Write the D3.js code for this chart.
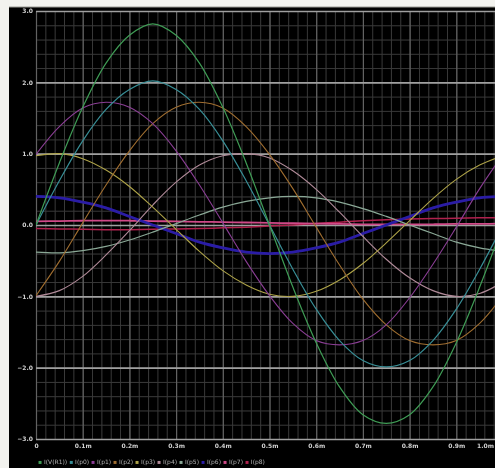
<!DOCTYPE html>
<html>
<head>
<meta charset="utf-8">
<script src="https://cdn.jsdelivr.net/npm/d3@7"></script>
<style>
  html, body { margin: 0; padding: 0; background: #f2f2ee; }
  svg { display: block; }
</style>
</head>
<body>
<svg id="chart" width="495" height="468"></svg>
<script>
// time samples in ms
const times = [0, 0.05, 0.1, 0.15, 0.2, 0.25, 0.3, 0.35, 0.4, 0.45, 0.5, 0.55, 0.6, 0.65, 0.7, 0.75, 0.8, 0.85, 0.9, 0.95, 1.0];

const greenVals = [0, 0.87, 1.65, 2.27, 2.66, 2.82, 2.66, 2.27, 1.65, 0.87, 0, -0.87, -1.65, -2.27, -2.66, -2.78, -2.66, -2.27, -1.65, -0.87, 0];
const cyanVals = [0, 0.62, 1.18, 1.62, 1.9, 2.02, 1.9, 1.62, 1.18, 0.62, 0, -0.62, -1.18, -1.62, -1.9, -1.99, -1.9, -1.62, -1.18, -0.62, 0];
const violetVals = [0.99, 1.38, 1.64, 1.72, 1.65, 1.42, 1.04, 0.56, 0.03, -0.51, -0.99, -1.38, -1.62, -1.68, -1.62, -1.4, -1.02, -0.55, -0.03, 0.51, 0.99];
const orangeVals = [-0.99, -0.51, 0.03, 0.56, 1.04, 1.42, 1.65, 1.72, 1.64, 1.38, 0.99, 0.51, -0.03, -0.56, -1.04, -1.4, -1.62, -1.68, -1.62, -1.38, -0.99];
const yellowVals = [0.97, 1.0, 0.93, 0.77, 0.54, 0.25, -0.06, -0.37, -0.64, -0.84, -0.97, -1.0, -0.93, -0.77, -0.54, -0.25, 0.06, 0.37, 0.64, 0.84, 0.97];
const mauveVals = [-1.0, -0.92, -0.72, -0.42, -0.08, 0.28, 0.6, 0.84, 0.97, 1.0, 0.94, 0.76, 0.5, 0.18, -0.16, -0.48, -0.74, -0.92, -1.0, -0.96, -0.8];
const paleVals = [-0.38, -0.39, -0.36, -0.3, -0.21, -0.1, 0.02, 0.14, 0.25, 0.33, 0.38, 0.4, 0.38, 0.32, 0.23, 0.12, 0.0, -0.12, -0.24, -0.32, -0.37];
const blueVals = [0.4, 0.38, 0.32, 0.24, 0.12, 0, -0.12, -0.24, -0.32, -0.38, -0.4, -0.38, -0.32, -0.24, -0.12, 0, 0.12, 0.24, 0.32, 0.38, 0.4];
const pinkVals = [0.05, 0.055, 0.06, 0.06, 0.06, 0.055, 0.05, 0.045, 0.04, 0.035, 0.03, 0.025, 0.02, 0.015, 0.01, 0.01, 0.01, 0.01, 0.015, 0.015, 0.02];
const redVals = [-0.05, -0.055, -0.06, -0.065, -0.065, -0.06, -0.055, -0.05, -0.04, -0.03, -0.015, 0, 0.02, 0.04, 0.06, 0.075, 0.085, 0.09, 0.095, 0.1, 0.1];

const xTicks = [0, 0.1, 0.2, 0.3, 0.4, 0.5, 0.6, 0.7, 0.8, 0.9, 1.0];
const xTickLabels = ["0", "0.1m", "0.2m", "0.3m", "0.4m", "0.5m", "0.6m", "0.7m", "0.8m", "0.9m", "1.0m"];
const yTicks = [3, 2, 1, 0, -1, -2, -3];
const legendNames = ["I(V(R1))", "I(p0)", "I(p1)", "I(p2)", "I(p3)", "I(p4)", "I(p5)", "I(p6)", "I(p7)", "I(p8)"];

const series = [
  { name: "I(p8)", values: redVals, color: "#b0204e", width: 1.5 },
  { name: "I(p7)", values: pinkVals, color: "#d04a88", width: 1.8 },
  { name: "I(p6)", values: blueVals, color: "#2c1ea6", width: 2.8 },
  { name: "I(p5)", values: paleVals, color: "#8aa896", width: 1.2 },
  { name: "I(p4)", values: mauveVals, color: "#b08a98", width: 1.1 },
  { name: "I(p3)", values: yellowVals, color: "#aea348", width: 1.1 },
  { name: "I(p2)", values: orangeVals, color: "#a06e30", width: 1.1 },
  { name: "I(p1)", values: violetVals, color: "#8a3e94", width: 1.1 },
  { name: "I(p0)", values: cyanVals, color: "#388e96", width: 1.2 },
  { name: "I(V(R1))", values: greenVals, color: "#3f9c55", width: 1.2 }
];

const svg = d3.select("#chart");
const W = 495, H = 468;

const defs = svg.append("defs");
defs.append("filter").attr("id", "soft")
  .append("feGaussianBlur").attr("stdDeviation", 0.6);
defs.append("clipPath").attr("id", "plotClip")
  .append("rect").attr("x", 36).attr("y", 8).attr("width", 470).attr("height", 434);

// frame: white strip top/left, black body
svg.append("rect").attr("x", 9).attr("y", 7).attr("width", W - 9).attr("height", H - 7).attr("fill", "#000");
svg.append("line").attr("x1", 9).attr("x2", W).attr("y1", 7).attr("y2", 7)
  .attr("stroke", "#9a9a94").attr("stroke-width", 1);

const x = d3.scaleLinear().domain([0, 1.0]).range([36, 503]);
const y = d3.scaleLinear().domain([-3, 3]).range([439, 11]);

const g = svg.append("g").attr("filter", "url(#soft)");

// minor grid
const minorX = d3.range(0, 1.0001, 0.02);
const minorY = d3.range(-3, 3.0001, 0.2);
g.append("g")
  .attr("transform", `translate(0,${y(-3)})`)
  .call(d3.axisBottom(x).tickValues(minorX).tickSize(-(y(-3) - y(3))).tickFormat(""))
  .call((s) => s.select(".domain").remove())
  .call((s) => s.selectAll("line").attr("stroke", "#3a3a3a").attr("stroke-width", 1));
g.append("g")
  .attr("transform", `translate(${x(0)},0)`)
  .call(d3.axisLeft(y).tickValues(minorY).tickSize(-(x(1) - x(0))).tickFormat(""))
  .call((s) => s.select(".domain").remove())
  .call((s) => s.selectAll("line").attr("stroke", "#3a3a3a").attr("stroke-width", 1));

// major grid
g.append("g")
  .attr("transform", `translate(0,${y(-3)})`)
  .call(d3.axisBottom(x).tickValues(xTicks).tickSize(-(y(-3) - y(3))).tickFormat(""))
  .call((s) => s.select(".domain").remove())
  .call((s) => s.selectAll("line").attr("stroke", "#626262").attr("stroke-width", 1.2));
g.append("g")
  .attr("transform", `translate(${x(0)},0)`)
  .call(d3.axisLeft(y).tickValues(yTicks).tickSize(-(x(1) - x(0))).tickFormat(""))
  .call((s) => s.select(".domain").remove())
  .call((s) => s.selectAll("line").attr("stroke", "#a0a0a0").attr("stroke-width", 1.6));

// curves
const line = d3.line()
  .x((d, i) => x(times[i]))
  .y((d) => y(d))
  .curve(d3.curveCatmullRom.alpha(0.5));

const plot = g.append("g").attr("clip-path", "url(#plotClip)");
series.forEach((s) => {
  plot.append("path")
    .datum(s.values)
    .attr("fill", "none")
    .attr("stroke", s.color)
    .attr("stroke-width", s.width)
    .attr("d", line);
});

// axis labels
const yAxis = g.append("g")
  .attr("transform", `translate(${x(0) - 3},0)`)
  .call(d3.axisLeft(y).tickValues(yTicks).tickSize(0).tickPadding(0).tickFormat(d3.format(".1f")));
yAxis.select(".domain").remove();
yAxis.selectAll("text")
  .attr("fill", "#d0d0d0")
  .style("font", "bold 6px 'DejaVu Sans', sans-serif");

const xAxis = g.append("g")
  .attr("transform", `translate(0,${y(-3) + 5})`)
  .call(d3.axisBottom(x).tickValues(xTicks).tickSize(0).tickPadding(0).tickFormat((d, i) => xTickLabels[i]));
xAxis.select(".domain").remove();
xAxis.selectAll("text")
  .attr("fill", "#d0d0d0")
  .style("font", "bold 6px 'DejaVu Sans', sans-serif");
// last label sits against the right edge
xAxis.selectAll(".tick")
  .filter((d) => d === 1.0)
  .attr("transform", `translate(${W - 1},0)`)
  .select("text")
  .attr("text-anchor", "end");

// legend
const legendColors = legendNames.map((n) => series.find((s) => s.name === n).color);
const legend = g.append("text")
  .attr("x", 38)
  .attr("y", 464)
  .style("font", "6px 'DejaVu Sans', sans-serif")
  .attr("fill", "#b0b0b0");
legendNames.forEach((n, i) => {
  legend.append("tspan").attr("fill", legendColors[i]).text(i === 0 ? "\u25aa" : " \u25aa");
  legend.append("tspan").text(" " + n);
});
</script>
</body>
</html>
